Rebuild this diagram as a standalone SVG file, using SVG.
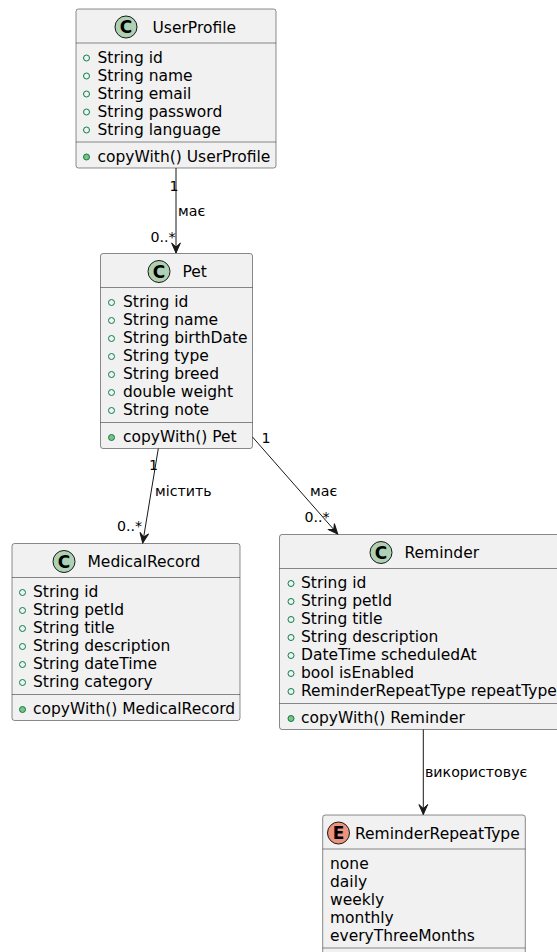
<svg xmlns="http://www.w3.org/2000/svg" width="557" height="952" viewBox="0 0 557 952">
<style>
text{font-family:"DejaVu Sans","Noto Sans",sans-serif;fill:#000}
.t{font-size:15.5px}
.l{font-size:14.2px}
.box{fill:#F1F1F1;stroke:#181818;stroke-width:0.5}
.sep{stroke:#181818;stroke-width:0.5}
.ci{fill:#ADD1B2;stroke:#181818;stroke-width:1}
.ce{fill:#EB937F;stroke:#181818;stroke-width:1}
.let{font-size:17px;font-weight:bold;text-anchor:middle}
.fa{fill:none;stroke:#038048;stroke-width:1}
.fm{fill:#84BE84;stroke:#038048;stroke-width:1}
.edge{stroke:#181818;stroke-width:1;fill:none;marker-end:url(#arr)}
</style>
<defs>
<marker id="arr" viewBox="-12 -6 13 12" markerWidth="13" markerHeight="12" refX="0" refY="0" orient="auto" markerUnits="userSpaceOnUse">
<path d="M0,0 L-10,-4.4 L-6,0 L-10,4.4 Z" fill="#181818" stroke="#181818" stroke-width="1"/>
</marker>
</defs>

<g id="UserProfile">
<rect class="box" x="76" y="9" width="200" height="159" rx="2.5"/>
<circle class="ci" cx="126" cy="27" r="11"/>
<text class="let" x="126" y="33">C</text>
<text class="t" x="152.5" y="32.5">UserProfile</text>
<line class="sep" x1="76" y1="43" x2="276" y2="43"/>
<circle class="fa" cx="86.5" cy="58" r="3"/><text class="t" x="97.5" y="62.5">String id</text>
<circle class="fa" cx="86.5" cy="76" r="3"/><text class="t" x="97.5" y="80.5">String name</text>
<circle class="fa" cx="86.5" cy="94" r="3"/><text class="t" x="97.5" y="98.5">String email</text>
<circle class="fa" cx="86.5" cy="112" r="3"/><text class="t" x="97.5" y="116.5">String password</text>
<circle class="fa" cx="86.5" cy="130" r="3"/><text class="t" x="97.5" y="134.5">String language</text>
<line class="sep" x1="76" y1="142" x2="276" y2="142"/>
<circle class="fm" cx="86.5" cy="157" r="3"/><text class="t" x="97.5" y="161.5">copyWith() UserProfile</text>
</g>

<g id="Pet">
<rect class="box" x="100.5" y="253.5" width="152" height="195" rx="2.5"/>
<circle class="ci" cx="159" cy="271.5" r="11"/>
<text class="let" x="159" y="277.5">C</text>
<text class="t" x="182.5" y="277">Pet</text>
<line class="sep" x1="100.5" y1="287.5" x2="252.5" y2="287.5"/>
<circle class="fa" cx="111.5" cy="302.5" r="3"/><text class="t" x="123" y="307">String id</text>
<circle class="fa" cx="111.5" cy="320.5" r="3"/><text class="t" x="123" y="325">String name</text>
<circle class="fa" cx="111.5" cy="338.5" r="3"/><text class="t" x="123" y="343">String birthDate</text>
<circle class="fa" cx="111.5" cy="356.5" r="3"/><text class="t" x="123" y="361">String type</text>
<circle class="fa" cx="111.5" cy="374.5" r="3"/><text class="t" x="123" y="379">String breed</text>
<circle class="fa" cx="111.5" cy="392.5" r="3"/><text class="t" x="123" y="397">double weight</text>
<circle class="fa" cx="111.5" cy="410.5" r="3"/><text class="t" x="123" y="415">String note</text>
<line class="sep" x1="100.5" y1="422.5" x2="252.5" y2="422.5"/>
<circle class="fm" cx="111.5" cy="437.5" r="3"/><text class="t" x="123" y="442">copyWith() Pet</text>
</g>

<g id="MedicalRecord">
<rect class="box" x="12" y="543.5" width="228" height="177" rx="2.5"/>
<circle class="ci" cx="64" cy="561.5" r="11"/>
<text class="let" x="64" y="567.5">C</text>
<text class="t" x="87.5" y="567">MedicalRecord</text>
<line class="sep" x1="12" y1="577.5" x2="240" y2="577.5"/>
<circle class="fa" cx="22.5" cy="592.5" r="3"/><text class="t" x="33" y="597">String id</text>
<circle class="fa" cx="22.5" cy="610.5" r="3"/><text class="t" x="33" y="615">String petId</text>
<circle class="fa" cx="22.5" cy="628.5" r="3"/><text class="t" x="33" y="633">String title</text>
<circle class="fa" cx="22.5" cy="646.5" r="3"/><text class="t" x="33" y="651">String description</text>
<circle class="fa" cx="22.5" cy="664.5" r="3"/><text class="t" x="33" y="669">String dateTime</text>
<circle class="fa" cx="22.5" cy="682.5" r="3"/><text class="t" x="33" y="687">String category</text>
<line class="sep" x1="12" y1="694.5" x2="240" y2="694.5"/>
<circle class="fm" cx="22.5" cy="709.5" r="3"/><text class="t" x="33" y="714">copyWith() MedicalRecord</text>
</g>

<g id="Reminder">
<rect class="box" x="279.5" y="534.5" width="281" height="195" rx="2.5"/>
<circle class="ci" cx="381" cy="552.5" r="11"/>
<text class="let" x="381" y="558.5">C</text>
<text class="t" x="404.5" y="558">Reminder</text>
<line class="sep" x1="279.5" y1="568.5" x2="560.5" y2="568.5"/>
<circle class="fa" cx="291" cy="583.5" r="3"/><text class="t" x="301" y="588">String id</text>
<circle class="fa" cx="291" cy="601.5" r="3"/><text class="t" x="301" y="606">String petId</text>
<circle class="fa" cx="291" cy="619.5" r="3"/><text class="t" x="301" y="624">String title</text>
<circle class="fa" cx="291" cy="637.5" r="3"/><text class="t" x="301" y="642">String description</text>
<circle class="fa" cx="291" cy="655.5" r="3"/><text class="t" x="301" y="660">DateTime scheduledAt</text>
<circle class="fa" cx="291" cy="673.5" r="3"/><text class="t" x="301" y="678">bool isEnabled</text>
<circle class="fa" cx="291" cy="691.5" r="3"/><text class="t" x="301" y="696">ReminderRepeatType repeatType</text>
<line class="sep" x1="279.5" y1="703.5" x2="560.5" y2="703.5"/>
<circle class="fm" cx="291" cy="718.5" r="3"/><text class="t" x="301" y="723">copyWith() Reminder</text>
</g>

<g id="ReminderRepeatType">
<rect class="box" x="322.7" y="815" width="202.6" height="150" rx="2.5"/>
<circle class="ce" cx="338.5" cy="833" r="11"/>
<text class="let" x="338.5" y="839">E</text>
<text class="t" x="355" y="838.5">ReminderRepeatType</text>
<line class="sep" x1="322.7" y1="849" x2="525.3" y2="849"/>
<text class="t" x="330" y="868.5">none</text>
<text class="t" x="330" y="886.5">daily</text>
<text class="t" x="330" y="904.5">weekly</text>
<text class="t" x="330" y="922.5">monthly</text>
<text class="t" x="330" y="940.5">everyThreeMonths</text>
<line class="sep" x1="322.7" y1="948" x2="525.3" y2="948"/>
</g>

<g id="connectors">
<line class="edge" x1="176" y1="168" x2="176" y2="253"/>
<text class="l" x="169.5" y="191">1</text>
<text class="l" x="178" y="216">має</text>
<text class="l" x="150.5" y="241.7">0..*</text>

<line class="edge" x1="158.3" y1="448.5" x2="142.7" y2="543"/>
<text class="l" x="149" y="470">1</text>
<text class="l" x="155" y="496">містить</text>
<text class="l" x="117" y="530.5">0..*</text>

<line class="edge" x1="252.5" y1="437" x2="337.7" y2="534"/>
<text class="l" x="261.5" y="443">1</text>
<text class="l" x="310" y="496">має</text>
<text class="l" x="304.5" y="521.5">0..*</text>

<line class="edge" x1="423.3" y1="729.5" x2="423.3" y2="814.5"/>
<text class="l" x="425" y="777">використовує</text>
</g>
</svg>
